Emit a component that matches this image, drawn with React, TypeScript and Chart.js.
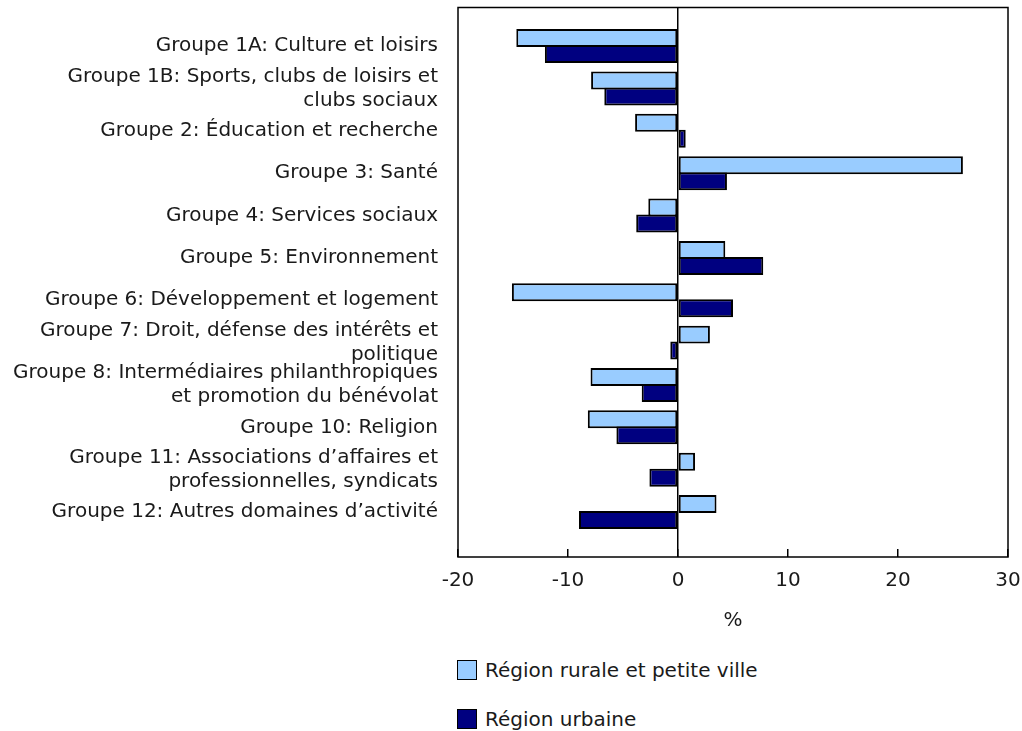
import React, { useEffect, useRef } from "react";
import { Chart, registerables } from "chart.js";

Chart.register(...registerables);

const categories: (string | string[])[] = [
  "Groupe 1A: Culture et loisirs",
  ["Groupe 1B: Sports, clubs de loisirs et", "clubs sociaux"],
  "Groupe 2: Éducation et recherche",
  "Groupe 3: Santé",
  "Groupe 4: Services sociaux",
  "Groupe 5: Environnement",
  "Groupe 6: Développement et logement",
  ["Groupe 7: Droit, défense des intérêts et", "politique"],
  ["Groupe 8: Intermédiaires philanthropiques", "et promotion du bénévolat"],
  "Groupe 10: Religion",
  ["Groupe 11: Associations d’affaires et", "professionnelles, syndicats"],
  "Groupe 12: Autres domaines d’activité",
];

const ruralValues = [-14.7, -7.9, -3.9, 25.9, -2.7, 4.3, -15.1, 2.9, -7.95, -8.2, 1.55, 3.5];
const urbanValues = [-12.1, -6.7, 0.7, 4.45, -3.8, 7.75, 5.0, -0.7, -3.3, -5.6, -2.6, -9.0];

const seriesNames = ["Région rurale et petite ville", "Région urbaine"];
const seriesColors = ["#99CCFF", "#000080"];

const xTicks = [-20, -10, 0, 10, 20, 30];
const xTitle = "%";

const FONT = "'DejaVu Sans', Verdana, sans-serif";
const FONT_SIZE = 20;

const framePlugin = {
  id: "frame",
  afterDraw(chart: any) {
    const { ctx, chartArea } = chart;
    ctx.save();
    ctx.strokeStyle = "#000";
    ctx.lineWidth = 1.5;
    ctx.strokeRect(chartArea.left, chartArea.top, chartArea.right - chartArea.left, chartArea.bottom - chartArea.top);
    ctx.restore();
  },
};

export default function App() {
  const canvasRef = useRef<HTMLCanvasElement | null>(null);

  useEffect(() => {
    if (!canvasRef.current) return;
    const chart = new Chart(canvasRef.current, {
      type: "bar",
      data: {
        datasets: [
          {
            label: seriesNames[0],
            data: ruralValues.map((v, i) => ({ x: v, y: i })),
            backgroundColor: seriesColors[0],
            borderColor: "#000",
            borderWidth: 2,
            borderSkipped: false,
          },
          {
            label: seriesNames[1],
            data: urbanValues.map((v, i) => ({ x: v, y: i })),
            backgroundColor: seriesColors[1],
            borderColor: "#000",
            borderWidth: 2,
            borderSkipped: false,
          },
        ],
      },
      plugins: [framePlugin],
      options: {
        indexAxis: "y",
        animation: false,
        responsive: true,
        maintainAspectRatio: false,
        layout: { padding: { top: 7.5, right: 14, left: 0, bottom: 0 } },
        datasets: {
          bar: { categoryPercentage: 0.755, barPercentage: 1.125 },
        },
        plugins: {
          legend: { display: false },
          tooltip: { enabled: false },
        },
        scales: {
          x: {
            type: "linear",
            min: -20,
            max: 30,
            offset: false,
            afterBuildTicks: (scale: any) => {
              scale.ticks = xTicks.map((v) => ({ value: v }));
            },
            afterFit: (scale: any) => {
              scale.height = 76;
              scale.paddingLeft = 0;
              scale.paddingRight = 0;
            },
            border: { display: false },
            grid: {
              drawOnChartArea: true,
              color: (c: any) => (c.tick && c.tick.value === 0 ? "#000" : "transparent"),
              lineWidth: 1.5,
              tickColor: "#000",
              tickWidth: 1.5,
              tickLength: -8,
              drawTicks: true,
            },
            ticks: {
              color: "#1a1a1a",
              padding: 20,
              font: { family: FONT, size: FONT_SIZE },
            },
            title: {
              display: true,
              text: xTitle,
              color: "#1a1a1a",
              padding: { top: 4, bottom: 0 },
              font: { family: FONT, size: FONT_SIZE },
            },
          },
          y: {
            type: "linear",
            reverse: true,
            offset: false,
            min: -0.91,
            max: 12.06,
            afterBuildTicks: (scale: any) => {
              scale.ticks = categories.map((_, i) => ({ value: i }));
            },
            afterFit: (scale: any) => {
              scale.width = 458;
              scale.paddingTop = 0;
              scale.paddingBottom = 0;
            },
            border: { display: false },
            grid: { display: false, drawTicks: false },
            ticks: {
              autoSkip: false,
              color: "#1a1a1a",
              padding: 20,
              font: { family: FONT, size: FONT_SIZE, lineHeight: 1.2 },
              callback: (v: any) => categories[v as number] ?? "",
            },
          },
        },
      },
    });
    return () => chart.destroy();
  }, []);

  return (
    <div style={{ position: "absolute", left: 0, top: 0, width: 1022, height: 731, fontFamily: FONT }}>
      <div style={{ position: "absolute", left: 0, top: 0, width: 1022, height: 633 }}>
        <canvas ref={canvasRef} />
      </div>
      {seriesNames.map((name, i) => (
        <div
          key={name}
          style={{
            position: "absolute",
            left: 457,
            top: 659 + i * 49,
            height: 21,
            display: "flex",
            alignItems: "center",
            fontSize: FONT_SIZE,
            color: "#1a1a1a",
            whiteSpace: "nowrap",
          }}
        >
          <span
            style={{
              display: "inline-block",
              width: 18,
              height: 18,
              background: seriesColors[i],
              border: "1.5px solid #000",
              marginRight: 8,
            }}
          />
          <span>{name}</span>
        </div>
      ))}
    </div>
  );
}
